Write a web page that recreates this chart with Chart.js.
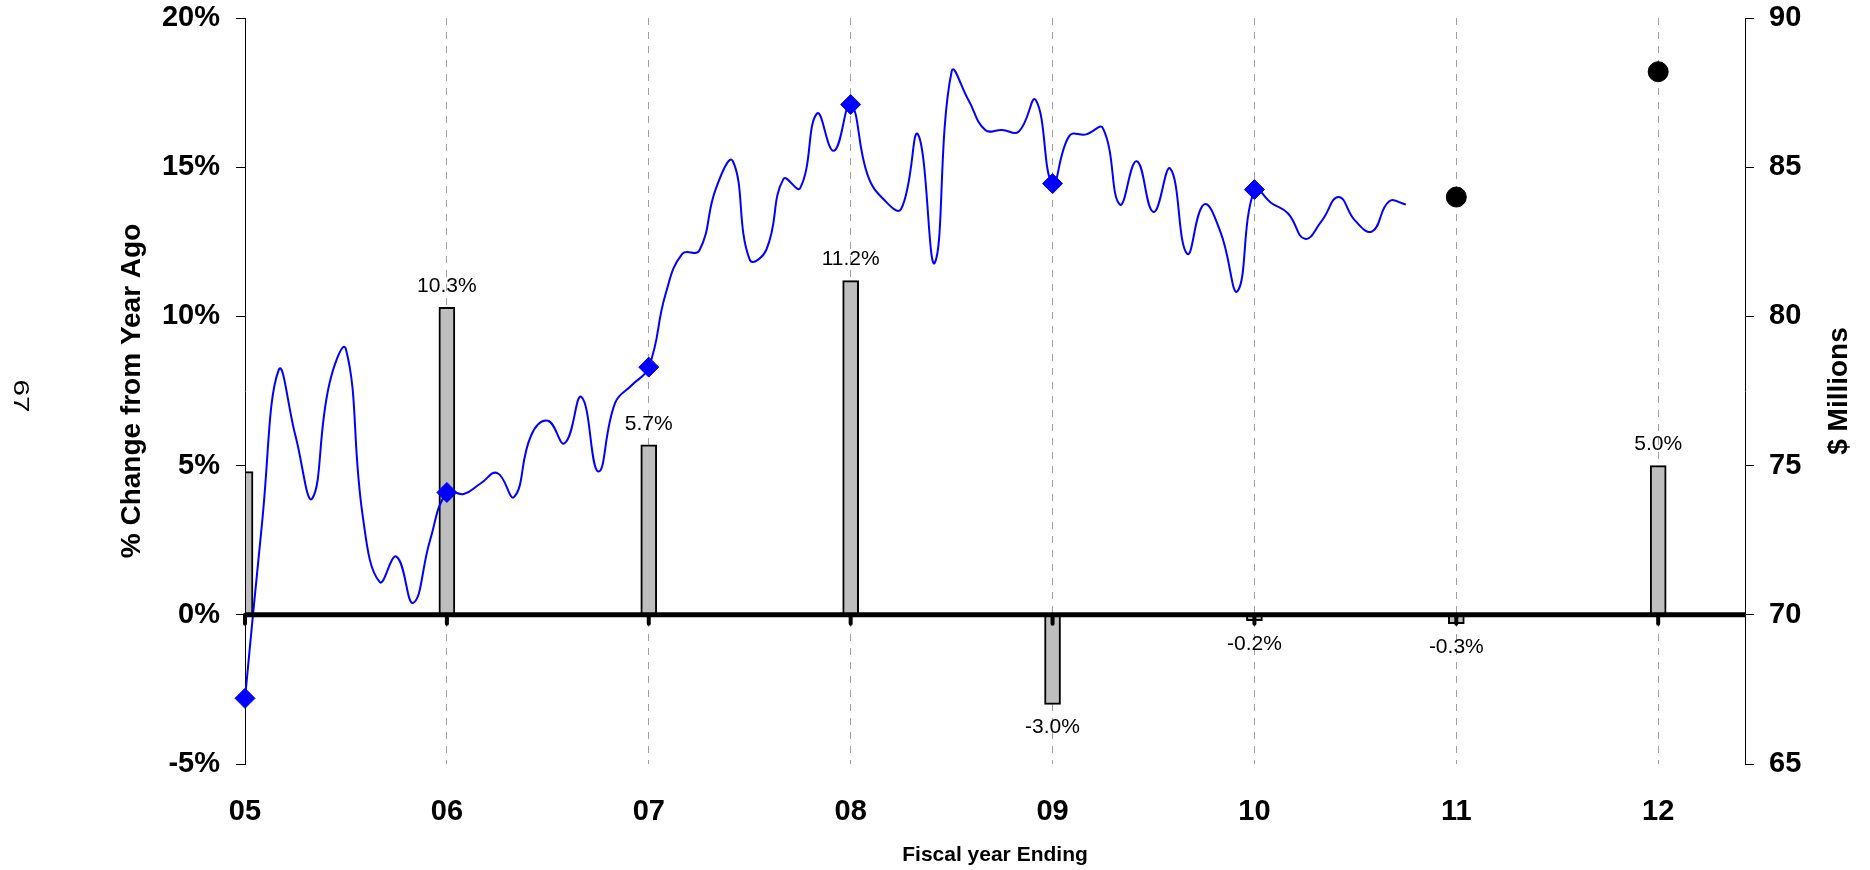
<!DOCTYPE html>
<html>
<head>
<meta charset="utf-8">
<title>Fiscal year ending</title>
<script src="https://cdn.jsdelivr.net/npm/chart.js@4.4.1/dist/chart.umd.min.js"></script>
<style>
    html, body { margin: 0; padding: 0; background: #ffffff; }
    #wrap { width: 1870px; height: 870px; }
</style>
</head>
<body>
<div id="wrap"><canvas id="chart" width="1870" height="870"></canvas></div>
<script>
// fiscal years on the x axis (05 .. 12)
const years = [5, 6, 7, 8, 9, 10, 11, 12];
const yearLabels = ['05', '06', '07', '08', '09', '10', '11', '12'];

// % change from year ago (bars, left axis)
const pctChange = [4.8, 10.3, 5.7, 11.2, -3.0, -0.2, -0.3, 5.0];
const pctLabels = ['', '10.3%', '5.7%', '11.2%', '-3.0%', '-0.2%', '-0.3%', '5.0%'];

// year end values, $ Millions (blue diamonds)
const closedYears = [5, 6, 7, 8, 9, 10];
const closedValues = [67.2, 74.1, 78.3, 87.1, 84.45, 84.25];

// forecast, $ Millions (black dots)
const forecastYears = [11, 12];
const forecastValues = [84.0, 88.2];

// monthly series, $ Millions, one value per month starting at FY05
const monthly = [
    67.2, 73.0, 78.2, 76.0, 73.9, 77.7, 78.9, 73.3, 71.1, 71.95, 70.4, 72.5,
    74.1, 74.05, 74.4, 74.75, 73.95, 76.0, 76.5, 75.75, 77.3, 74.8, 77.1, 77.7,
    78.3, 80.75, 82.1, 82.2, 84.3, 85.2, 81.9, 82.25, 84.6, 84.3, 86.8, 85.55,
    87.1, 84.75, 83.9, 83.6, 86.1, 81.8, 88.2, 87.25, 86.25, 86.25, 86.2, 87.25,
    84.45, 86.05, 86.1, 86.3, 83.75, 85.2, 83.5, 84.95, 82.1, 83.75, 82.8, 80.85,
    84.25, 83.8, 83.45, 82.6, 83.2, 84.0, 83.2, 82.85, 83.85, 83.75
];

const FONT = '"Liberation Sans", Arial, Helvetica, sans-serif';

// keep the axes from pushing the plot area around
const noPadding = s => {
    s.paddingTop = 0;
    s.paddingBottom = 0;
    s.paddingLeft = 0;
    s.paddingRight = 0;
};

const extras = {
    id: 'extras',
    afterDatasetsDraw(chart) {
        const { ctx, chartArea, scales } = chart;
        const y0 = scales.y.getPixelForValue(0);

        ctx.save();
        // thick zero line with small year ticks
        ctx.strokeStyle = '#000000';
        ctx.lineWidth = 5;
        ctx.beginPath();
        ctx.moveTo(chartArea.left, y0);
        ctx.lineTo(chartArea.right, y0);
        ctx.stroke();

        ctx.lineWidth = 4;
        ctx.lineCap = 'round';
        years.forEach(a => {
            const x = scales.x.getPixelForValue(a);
            ctx.beginPath();
            ctx.moveTo(x, y0);
            ctx.lineTo(x, y0 + 9);
            ctx.stroke();
        });

        // value labels on the bars
        const meta = chart.getDatasetMeta(3);
        ctx.font = '21px ' + FONT;
        ctx.fillStyle = '#000000';
        ctx.textAlign = 'center';
        ctx.textBaseline = 'middle';
        meta.data.forEach((bar, i) => {
            if (!pctLabels[i]) return;
            const y = pctChange[i] >= 0 ? bar.y - 21 : bar.y + 23;
            ctx.fillText(pctLabels[i], bar.x, y);
        });
        ctx.restore();
    },
    afterDraw(chart) {
        const { ctx, chartArea } = chart;
        const midY = (chartArea.top + chartArea.bottom) / 2;
        ctx.save();
        ctx.fillStyle = '#000000';
        ctx.textAlign = 'center';
        ctx.textBaseline = 'middle';

        ctx.font = 'bold 28px ' + FONT;
        ctx.save();
        ctx.translate(132, midY);
        ctx.rotate(-Math.PI / 2);
        ctx.fillText('% Change from Year Ago', 0, 0);
        ctx.restore();

        ctx.save();
        ctx.translate(1839, midY);
        ctx.rotate(-Math.PI / 2);
        ctx.fillText('$ Millions', 0, 0);
        ctx.restore();

        ctx.font = 'bold 21px ' + FONT;
        ctx.fillText('Fiscal year Ending', (chartArea.left + chartArea.right) / 2, 855);

        // page number at the left margin
        ctx.font = '22px ' + FONT;
        ctx.save();
        ctx.translate(20, 396);
        ctx.rotate(Math.PI / 2);
        ctx.scale(1.35, 1);
        ctx.fillText('67', 0, 0);
        ctx.restore();

        ctx.restore();
    }
};

const ctx = document.getElementById('chart').getContext('2d');

new Chart(ctx, {
    data: {
        datasets: [
            {
                type: 'scatter',
                data: forecastYears.map((a, i) => ({ x: a, y: forecastValues[i] })),
                yAxisID: 'y2',
                pointStyle: 'circle',
                pointRadius: 10,
                backgroundColor: '#000000',
                borderColor: '#000000',
                clip: false,
                order: 0
            },
            {
                type: 'scatter',
                data: closedYears.map((a, i) => ({ x: a, y: closedValues[i] })),
                yAxisID: 'y2',
                pointStyle: 'rectRot',
                pointRadius: 10,
                backgroundColor: '#0000FF',
                borderColor: '#0000FF',
                clip: false,
                order: 1
            },
            {
                type: 'line',
                data: monthly.map((v, i) => ({ x: years[0] + i / 12, y: v })),
                yAxisID: 'y2',
                borderColor: '#0000FF',
                borderWidth: 2,
                pointRadius: 0,
                tension: 0.45,
                fill: false,
                order: 2
            },
            {
                type: 'bar',
                data: years.map((a, i) => ({ x: a, y: pctChange[i] })),
                yAxisID: 'y',
                backgroundColor: '#BEBEBE',
                borderColor: '#000000',
                borderWidth: 2,
                barThickness: 16,
                clip: { left: -1, top: 0, right: 0, bottom: 0 },
                order: 3
            }
        ]
    },
    options: {
        responsive: false,
        animation: false,
        devicePixelRatio: 1,
        layout: { padding: { top: 18, left: 0, right: 0, bottom: 0 } },
        plugins: {
            legend: { display: false },
            tooltip: { enabled: false }
        },
        scales: {
            x: {
                type: 'linear',
                offset: false,
                min: 5,
                max: 12.43,
                afterBuildTicks: s => { s.ticks = years.map(v => ({ value: v })); },
                afterFit: s => { s.height = 106; noPadding(s); },
                ticks: {
                    callback: (v, i) => yearLabels[i],
                    font: { family: FONT, size: 29, weight: 'bold' },
                    color: '#000000',
                    padding: 31,
                    maxRotation: 0,
                    autoSkip: false
                },
                grid: {
                    offset: false,
                    drawTicks: false,
                    lineWidth: 1,
                    color: c => (c.tick && c.tick.value === 5) ? 'rgba(0,0,0,0)' : '#A0A0A0'
                },
                border: { display: false, dash: [7, 7] }
            },
            y: {
                position: 'left',
                min: -5,
                max: 20,
                afterFit: s => { s.width = 245; noPadding(s); },
                ticks: {
                    stepSize: 5,
                    callback: v => v + '%',
                    font: { family: FONT, size: 29, weight: 'bold' },
                    color: '#000000',
                    padding: 16
                },
                grid: {
                    drawOnChartArea: false,
                    drawTicks: true,
                    tickLength: 9,
                    color: '#000000',
                    lineWidth: 1
                },
                border: { display: true, color: '#000000', width: 1 }
            },
            y2: {
                position: 'right',
                min: 65,
                max: 90,
                afterFit: s => { s.width = 125; noPadding(s); },
                ticks: {
                    stepSize: 5,
                    font: { family: FONT, size: 29, weight: 'bold' },
                    color: '#000000',
                    padding: 15
                },
                grid: {
                    drawOnChartArea: false,
                    drawTicks: true,
                    tickLength: 9,
                    color: '#000000',
                    lineWidth: 1
                },
                border: { display: true, color: '#000000', width: 1 }
            }
        }
    },
    plugins: [extras]
});
</script>
</body>
</html>
